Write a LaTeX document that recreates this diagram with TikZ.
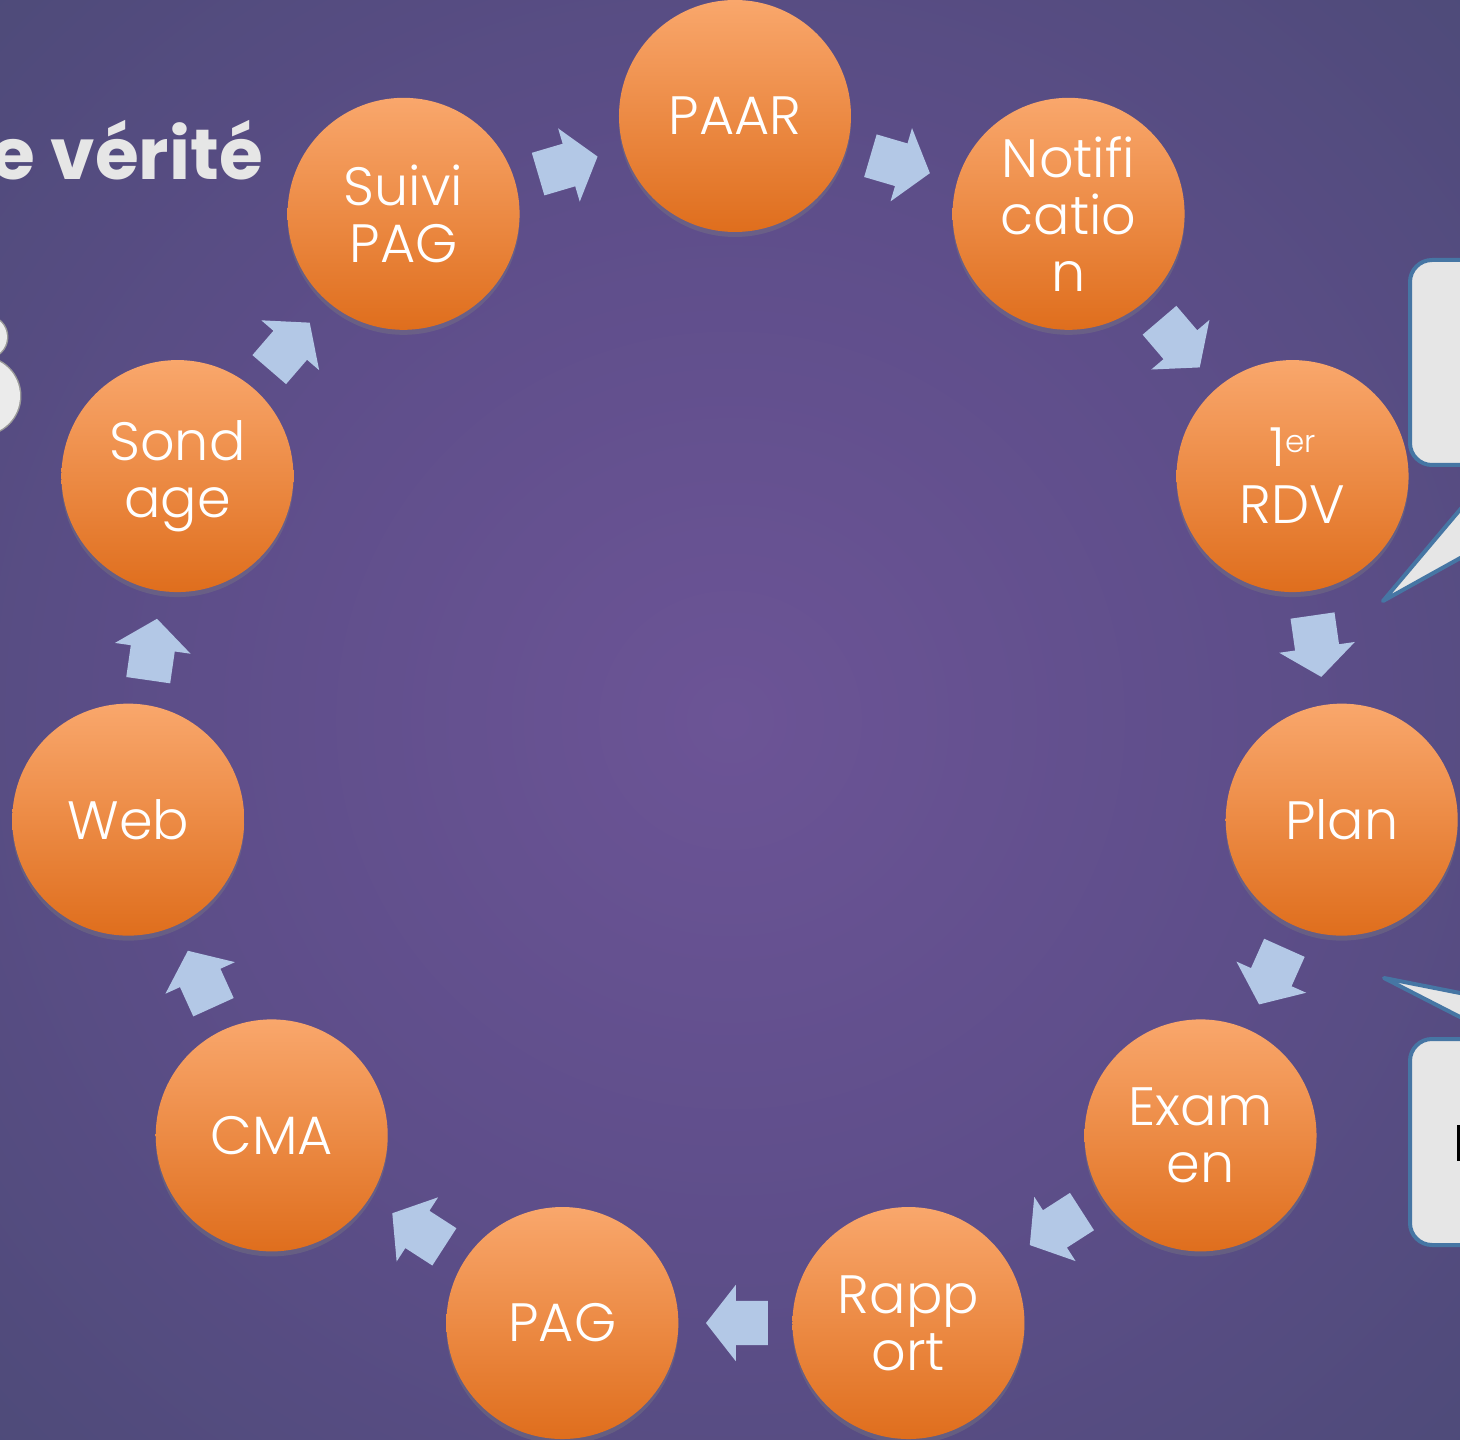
\documentclass[tikz,border=0pt]{standalone}
\usepackage{fontspec}
\setmainfont{Poppins}
\newfontfamily\circfont{Poppins Light}
\usetikzlibrary{shapes.arrows,shadows,calc}

\definecolor{bgin}{HTML}{6C5496}
\definecolor{bgmid}{HTML}{5E4E8A}
\definecolor{bgout}{HTML}{4C4A77}
\definecolor{bgrim}{HTML}{45486F}
\definecolor{bgedge}{HTML}{394462}
\definecolor{orangetop}{HTML}{F9A76C}
\definecolor{orangebot}{HTML}{DF6E1D}
\definecolor{arrowblue}{HTML}{B3C8E6}
\definecolor{bubblegray}{HTML}{E6E6E6}
\definecolor{bubbleblue}{HTML}{4676A4}
\definecolor{titlegray}{HTML}{E6E6E6}

\pgfdeclareradialshading{bgshade}{\pgfpoint{0bp}{0bp}}{color(0bp)=(bgin); color(18bp)=(bgmid); color(38bp)=(bgout); color(50bp)=(bgrim); color(72bp)=(bgedge)}

\begin{document}
\begin{tikzpicture}[x=1pt,y=1pt,
    stepnode/.style={circle, minimum size=232pt, inner sep=0pt, top color=orangetop, bottom color=orangebot,
      text=white, align=center, font=\circfont\fontsize{54}{57}\selectfont,
      drop shadow={shadow xshift=0pt, shadow yshift=-5pt, opacity=0.35}},
    flowarrow/.style={single arrow, fill=arrowblue, inner xsep=0pt, inner ysep=22pt, minimum height=62pt,
      single arrow head extend=16pt, single arrow tip angle=104, sloped, allow upside down, pos=0.41},
    bubble/.style={fill=bubblegray, draw=bubbleblue, line width=4pt}]
    \useasboundingbox (-735,-708) rectangle (725,732);
    \clip (-735,-708) rectangle (725,732);
    \shade[shading=bgshade] (-735,-708) rectangle (725,732);

    % cloud edge on the left
    \draw[draw=gray!80, line width=3pt] (-749,395) circle (21) (-754,336) circle (39);
    \fill[white!92!black] (-749,395) circle (21) (-754,336) circle (39);

    \node[anchor=base east, inner sep=0pt, text=titlegray, font=\bfseries\fontsize{71}{80}\selectfont] (title) at (-472,552) {e vérité};

    % callouts on the right
    \node[bubble, rounded corners=22pt, anchor=north west, minimum width=300pt, minimum height=205pt] (box1) at (673,474) {};
    \coordinate (tip1) at (648,131);
    \filldraw[bubble, line join=round] ($(box1.south west)+(88,0)$) -- (tip1) -- ($(box1.south west)+(216,0)$);
    \node[bubble, rounded corners=22pt, anchor=north west, minimum width=300pt, minimum height=206pt] (box2) at (673,-305) {};
    \coordinate (tip2) at (649,-246);
    \filldraw[bubble, line join=round] ($(box2.north west)+(91,0)$) -- (tip2) -- ($(box2.north west)+(275,0)$);
    \node[draw=black, line width=2.5pt, minimum width=16pt, minimum height=33pt, anchor=north west, inner sep=0pt] (glyph) at (722,-393) {};

    % the cycle
    \node[stepnode] (paar) at (90:613pt and 616pt) {PAAR};
    \node[stepnode] (notif) at (57.27:617pt and 616pt) {Notifi\\catio\\n};
    \node[stepnode] (rdv) at (24.55:613pt and 616pt) {1\raisebox{14pt}{\fontsize{31}{31}\selectfont er}\\RDV};
    \node[stepnode] (plan) at (-8.18:613pt and 616pt) {Plan};
    \node[stepnode] (examen) at (-40.91:616pt and 616pt) {Exam\\en};
    \node[stepnode] (rapport) at (-73.64:616pt and 616pt) {Rapp\\ort};
    \node[stepnode] (pag) at (-106.36:613pt and 616pt) {PAG};
    \node[stepnode] (cma) at (-139.09:613pt and 616pt) {CMA};
    \node[stepnode] (web) at (-171.82:613pt and 616pt) {Web};
    \node[stepnode] (sondage) at (155.45:613pt and 616pt) {Sond\\age};
    \node[stepnode] (suivi) at (122.73:613pt and 616pt) {Suivi\\PAG};

    \path (paar) -- node[flowarrow] (a1) {} (notif);
    \path (notif) -- node[flowarrow] (a2) {} (rdv);
    \path (rdv) -- node[flowarrow] (a3) {} (plan);
    \path (plan) -- node[flowarrow] (a4) {} (examen);
    \path (examen) -- node[flowarrow] (a5) {} (rapport);
    \path (rapport) -- node[flowarrow] (a6) {} (pag);
    \path (pag) -- node[flowarrow] (a7) {} (cma);
    \path (cma) -- node[flowarrow] (a8) {} (web);
    \path (web) -- node[flowarrow] (a9) {} (sondage);
    \path (sondage) -- node[flowarrow] (a10) {} (suivi);
    \path (suivi) -- node[flowarrow] (a11) {} (paar);
\end{tikzpicture}
\end{document}
